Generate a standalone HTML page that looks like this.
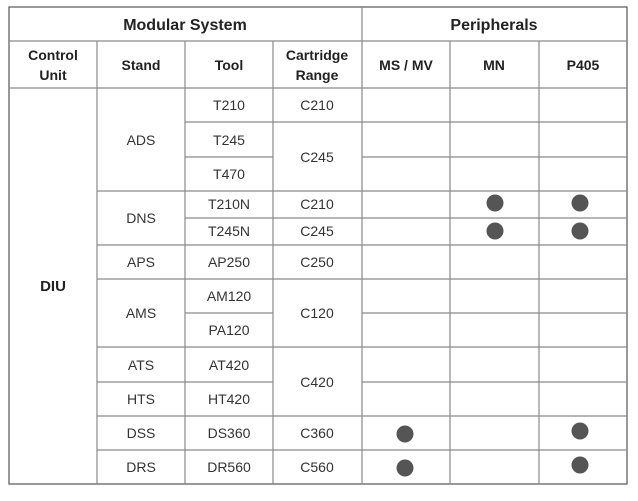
<!DOCTYPE html>
<html><head><style>
body{margin:0;background:#fff;}
svg{display:block;font-family:"Liberation Sans",sans-serif;}
.h{font-weight:bold;fill:#222;}
.b{fill:#333;font-size:14px;}
</style></head><body>
<svg width="638" height="501" viewBox="0 0 638 501">
<g stroke="#8a8a8a" stroke-width="1.2" fill="none">
<rect x="9" y="7" width="618" height="477" stroke="#555"/>
<line x1="9" y1="41" x2="627" y2="41"/>
<line x1="9" y1="88" x2="627" y2="88"/>
<line x1="362" y1="7" x2="362" y2="484"/>
<line x1="97" y1="41" x2="97" y2="484"/>
<line x1="185" y1="41" x2="185" y2="484"/>
<line x1="273" y1="41" x2="273" y2="484"/>
<line x1="450" y1="41" x2="450" y2="484"/>
<line x1="539" y1="41" x2="539" y2="484"/>
<!-- tool-level lines -->
<line x1="185" y1="122" x2="627" y2="122"/>
<line x1="185" y1="157" x2="273" y2="157"/>
<line x1="362" y1="157" x2="627" y2="157"/>
<line x1="97" y1="191" x2="627" y2="191"/>
<line x1="185" y1="218" x2="627" y2="218"/>
<line x1="97" y1="245" x2="627" y2="245"/>
<line x1="97" y1="279" x2="627" y2="279"/>
<line x1="185" y1="313" x2="273" y2="313"/>
<line x1="362" y1="313" x2="627" y2="313"/>
<line x1="97" y1="347" x2="627" y2="347"/>
<line x1="97" y1="382" x2="273" y2="382"/>
<line x1="362" y1="382" x2="627" y2="382"/>
<line x1="97" y1="416" x2="627" y2="416"/>
<line x1="97" y1="450" x2="627" y2="450"/>
</g>
<g text-anchor="middle">
<text class="h" x="185" y="30" font-size="16">Modular System</text>
<text class="h" x="494" y="30" font-size="16">Peripherals</text>
<g class="h" font-size="14">
<text x="53" y="60">Control</text><text x="53" y="80">Unit</text>
<text x="141" y="70">Stand</text>
<text x="229" y="70">Tool</text>
<text x="317" y="60">Cartridge</text><text x="317" y="80">Range</text>
<text x="406" y="70">MS / MV</text>
<text x="494" y="70">MN</text>
<text x="583" y="70">P405</text>
<text x="53" y="291" font-size="15">DIU</text>
</g>
<g class="b">
<text x="141" y="145">ADS</text>
<text x="141" y="223">DNS</text>
<text x="141" y="267">APS</text>
<text x="141" y="318">AMS</text>
<text x="141" y="370">ATS</text>
<text x="141" y="404">HTS</text>
<text x="141" y="438">DSS</text>
<text x="141" y="472">DRS</text>
<text x="229" y="110">T210</text>
<text x="229" y="145">T245</text>
<text x="229" y="179">T470</text>
<text x="229" y="209">T210N</text>
<text x="229" y="236">T245N</text>
<text x="229" y="267">AP250</text>
<text x="229" y="301">AM120</text>
<text x="229" y="335">PA120</text>
<text x="229" y="370">AT420</text>
<text x="229" y="404">HT420</text>
<text x="229" y="438">DS360</text>
<text x="229" y="472">DR560</text>
<text x="317" y="110">C210</text>
<text x="317" y="162">C245</text>
<text x="317" y="209">C210</text>
<text x="317" y="236">C245</text>
<text x="317" y="267">C250</text>
<text x="317" y="318">C120</text>
<text x="317" y="387">C420</text>
<text x="317" y="438">C360</text>
<text x="317" y="472">C560</text>
</g>
</g>
<g fill="#555">
<circle cx="495" cy="203" r="8.5"/><circle cx="580" cy="203" r="8.5"/>
<circle cx="495" cy="231" r="8.5"/><circle cx="580" cy="231" r="8.5"/>
<circle cx="405" cy="434" r="8.5"/><circle cx="580" cy="431" r="8.5"/>
<circle cx="405" cy="468" r="8.5"/><circle cx="580" cy="465" r="8.5"/>
</g>
</svg>
</body></html>
